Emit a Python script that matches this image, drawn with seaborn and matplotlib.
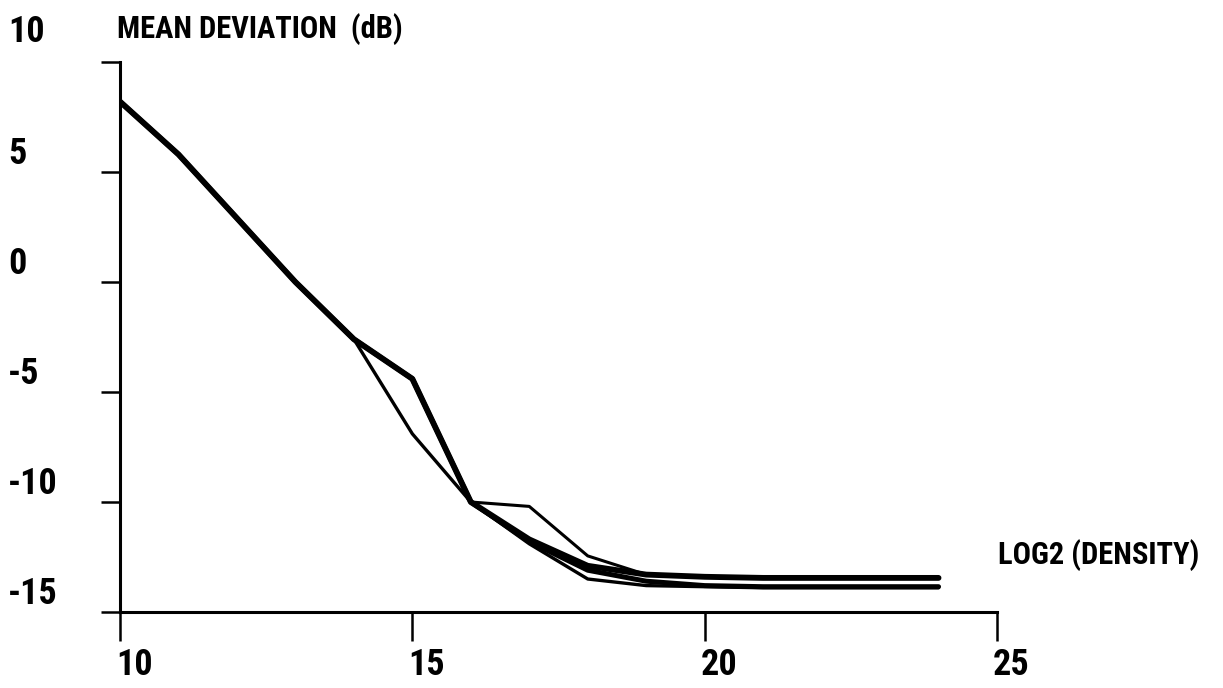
import numpy as np
import pandas as pd
import matplotlib
matplotlib.use("Agg")
import matplotlib.pyplot as plt
import matplotlib.transforms as mtrans
import seaborn as sns

# ---- data ----
log2_density = [10, 11, 12, 13, 14, 15, 16, 17, 18, 19, 20, 21, 22, 23, 24]
series_a = [8.2, 5.8, 2.9, 0.0, -2.6, -4.4, -10.0, -11.7, -12.9, -13.3, -13.4, -13.45, -13.45, -13.45, -13.45]
series_b = [8.2, 5.8, 2.9, 0.0, -2.6, -6.9, -10.0, -11.9, -13.5, -13.8, -13.85, -13.9, -13.9, -13.9, -13.9]
series_c = [8.2, 5.8, 2.9, 0.0, -2.6, -4.4, -10.0, -10.2, -12.45, -13.3, -13.4, -13.45, -13.45, -13.45, -13.45]
series_d = [8.2, 5.8, 2.9, 0.0, -2.6, -4.4, -10.0, -11.8, -13.1, -13.6, -13.8, -13.85, -13.85, -13.85, -13.85]
series_widths = {"A": 4.2, "B": 2.4, "C": 2.2, "D": 3.6}

x_ticks = [10, 15, 20, 25]
y_ticks = [10, 5, 0, -5, -10, -15]
y_title = "MEAN DEVIATION  (dB)"
x_title = "LOG2 (DENSITY)"

sns.set_style("ticks")
fam = ["Roboto Condensed", "DejaVu Sans"]
plt.rcParams["font.family"] = fam
plt.rcParams["font.stretch"] = "condensed"
plt.rcParams["font.weight"] = "bold"

fig = plt.figure(figsize=(12.23, 6.88), dpi=100)
ax = fig.add_axes([120 / 1223, 1 - 612 / 688, (997 - 120) / 1223, (612 - 62) / 688])

df = pd.DataFrame({"x": log2_density * 4,
                   "y": series_a + series_b + series_c + series_d,
                   "s": ["A"] * 15 + ["B"] * 15 + ["C"] * 15 + ["D"] * 15})
for name, sub in df.groupby("s"):
    sns.lineplot(data=sub, x="x", y="y", ax=ax, color="black",
                 linewidth=series_widths[name], solid_joinstyle="round",
                 solid_capstyle="round", legend=False)

ax.set_xlim(10, 25)
ax.set_ylim(-15, 10)
ax.set_xlabel("")
ax.set_ylabel("")
for s in ["top", "right"]:
    ax.spines[s].set_visible(False)
for s in ["left", "bottom"]:
    ax.spines[s].set_linewidth(2.2)
    ax.spines[s].set_color("black")

ax.set_xticks(x_ticks)
ax.set_yticks(y_ticks)
ax.tick_params(axis="x", bottom=True, direction="out", length=21, width=1.8, color="black", labelbottom=False)
ax.tick_params(axis="y", left=True, direction="out", length=14, width=1.8, color="black", labelleft=False)

# y tick labels: left aligned near the figure edge, sitting just above their ticks
ytr = mtrans.blended_transform_factory(fig.transFigure, ax.transData)
for v in y_ticks:
    dy = 12 if v == 10 else 0
    ax.text(8 / 1223, v, f"{v}", transform=ytr + mtrans.ScaledTranslation(0, dy / 100, fig.dpi_scale_trans),
            ha="left", va="bottom", fontsize=26, fontweight="bold", fontstretch="condensed", color="black")

# x tick labels, slightly right of the ticks
xtr = mtrans.blended_transform_factory(ax.transData, fig.transFigure)
for v in x_ticks:
    ax.text(v + 0.25, 1 - 665 / 688, f"{v}", transform=xtr, ha="center", va="center",
            fontsize=26, fontweight="bold", fontstretch="condensed", color="black")

fig.text(117 / 1223, 1 - 29 / 688, y_title, ha="left", va="center",
         fontsize=22, fontweight="bold", fontstretch="condensed", color="black")
fig.text(998 / 1223, 1 - 555 / 688, x_title, ha="left", va="center",
         fontsize=22, fontweight="bold", fontstretch="condensed", color="black")

fig.savefig("out.png", dpi=100, facecolor="white")
